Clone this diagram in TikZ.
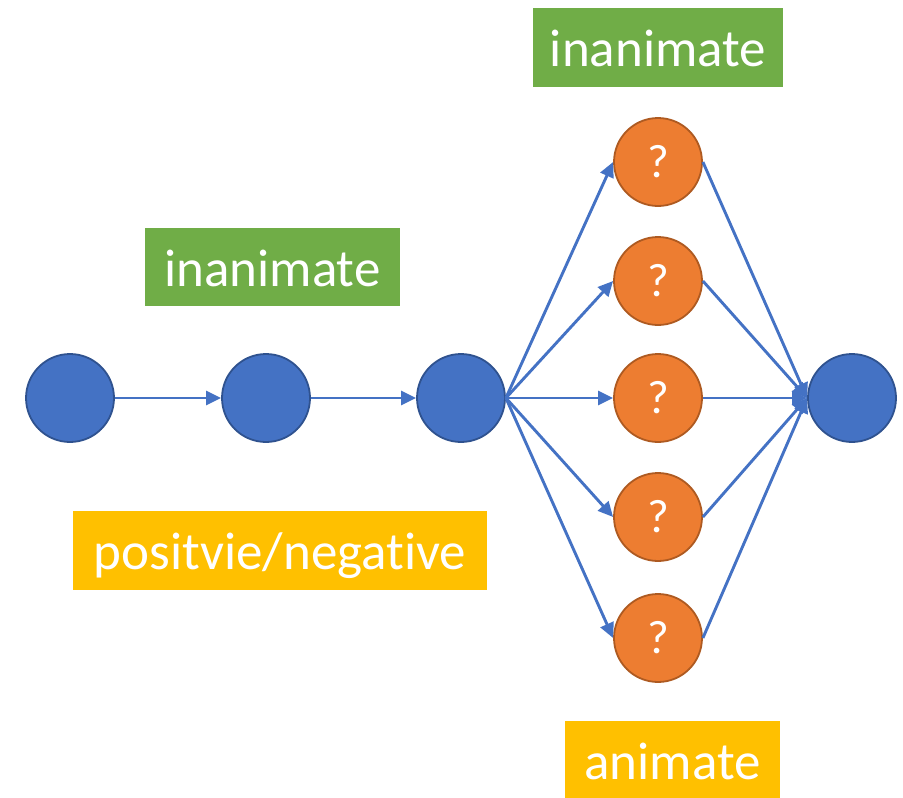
\documentclass[tikz,border=0pt]{standalone}
\usepackage{fontspec}
\setmainfont[Ligatures=NoCommon]{Carlito}
\usetikzlibrary{arrows.meta}
\definecolor{nodeblue}{HTML}{4472C4}
\definecolor{nodeblueline}{HTML}{2F528F}
\definecolor{nodeorange}{HTML}{ED7D31}
\definecolor{nodeorangeline}{HTML}{AE5A21}
\definecolor{labelgreen}{HTML}{70AD47}
\definecolor{labelyellow}{HTML}{FFC000}
\tikzset{
  bluenode/.style={circle, minimum size=88, inner sep=0, fill=nodeblue, draw=nodeblueline, line width=1.8},
  orangenode/.style={circle, minimum size=88, inner sep=0, fill=nodeorange, draw=nodeorangeline, line width=1.8,
    text=white, font=\fontsize{47}{50}\selectfont},
  labelbox/.style={inner sep=0, text=white, text height=38, text depth=0,
    font=\fontsize{53}{60}\selectfont},
  greenlabel/.style={labelbox, fill=labelgreen},
  yellowlabel/.style={labelbox, fill=labelyellow},
  link/.style={draw=nodeblue, line width=2.9, -{Triangle[length=15, width=14]}},
}
\begin{document}
\begin{tikzpicture}[x=1pt, y=-1pt]
  \useasboundingbox (0,0) rectangle (903,798);

  % chain of blue nodes
  \node[bluenode] (a) at (70,398) {};
  \node[bluenode] (b) at (266,398) {};
  \node[bluenode] (c) at (461,398) {};
  \node[bluenode] (z) at (852,398) {};

  % candidate nodes
  \node[orangenode] (q1) at (658,162) {?};
  \node[orangenode] (q2) at (658,281) {?};
  \node[orangenode] (q3) at (658,398) {?};
  \node[orangenode] (q4) at (658,517) {?};
  \node[orangenode] (q5) at (658,638) {?};

  % labels
  \node[greenlabel, minimum width=250, minimum height=79] (top) at (658,47.5) {inanimate};
  \node[greenlabel, minimum width=255, minimum height=78] (mid) at (272.5,267) {inanimate};
  \node[yellowlabel, minimum width=414, minimum height=79] (pn) at (280,550.5) {positvie/negative};
  \node[yellowlabel, minimum width=215, minimum height=79] (anim) at (672.5,760) {animate};

  % connectors
  \draw[link] (a.east) -- (b.west);
  \draw[link] (b.east) -- (c.west);
  \foreach \q in {q1,q2,q3,q4,q5} {
    \draw[link] (c.east) -- (\q.west);
    \draw[link] (\q.east) -- (z.west);
  }
\end{tikzpicture}
\end{document}
